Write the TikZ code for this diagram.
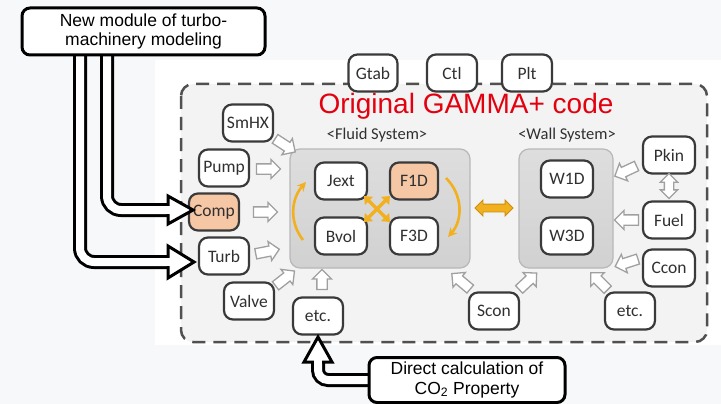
\documentclass[tikz,border=0pt]{standalone}
\usepackage{fontspec}
\setmainfont{Liberation Sans}
\newfontfamily\carlito{Carlito}
\usetikzlibrary{shapes.arrows,arrows.meta}
\definecolor{nodeborder}{HTML}{3A3A3A}
\definecolor{textgray}{HTML}{303030}
\definecolor{peach}{HTML}{F6C7A5}
\definecolor{arrowgray}{HTML}{A0A0A0}
\definecolor{gold}{HTML}{F2B01E}
\definecolor{golddark}{HTML}{C89010}
\definecolor{titlered}{HTML}{E3000F}
\definecolor{framegray}{HTML}{505050}
\definecolor{innerbg}{HTML}{F3F3F3}
\definecolor{outerbg}{HTML}{F7F8FA}
\begin{document}
\begin{tikzpicture}[x=1pt,y=-1pt,
  box/.style={draw=nodeborder, line width=2.2pt, rounded corners=9pt, fill=white,
    minimum width=50pt, minimum height=37pt, inner sep=0pt,
    font=\carlito\fontsize{17.5}{20}\selectfont, text=textgray},
  hot/.style={box, fill=peach},
  panel/.style={draw=black!28, line width=1.2pt, rounded corners=10pt,
    top color=black!13, bottom color=black!18},
  syslabel/.style={font=\carlito\fontsize{16.5}{20}\selectfont, text=textgray},
  garrow/.style={single arrow, draw=arrowgray, fill=white, line width=1.3pt,
    minimum height=24pt, inner xsep=0pt, inner ysep=4.5pt, text height=0pt, text depth=0pt,
    single arrow head extend=4.5pt, single arrow head indent=0pt},
  gdarrow/.style={double arrow, draw=arrowgray, fill=white, line width=1.3pt,
    minimum height=25pt, inner xsep=0pt, inner ysep=4pt, text height=0pt, text depth=0pt,
    double arrow head extend=4pt},
  bigarrow/.style={draw=black, line width=3pt, double=white, double distance=8pt},
  bighead/.style={draw=black, line width=3pt, fill=white, line join=miter},
  callout/.style={draw=black, line width=3pt, rounded corners=8pt, fill=white,
    align=center, inner sep=0pt, font=\fontsize{17.5}{19.5}\selectfont},
  goldarc/.style={draw=gold, line width=2.6pt, -{Stealth[length=9pt,width=9pt]}},
  goldx/.style={draw=gold, line width=3.5pt, {Triangle[length=7pt,width=11pt]}-{Triangle[length=7pt,width=11pt]}}
]
\useasboundingbox (0,0) rectangle (721,404);
\fill[outerbg] (0,0) rectangle (721,404);
\fill[white] (155,60) rectangle (721,345);

% dashed frame
\draw[draw=framegray, fill=innerbg, line width=2.5pt, dash pattern=on 13pt off 8pt,
  rounded corners=12pt] (181,84) rectangle (707,342);

% title and system labels
\node[text=titlered, font=\fontsize{28}{30}\selectfont] (title) at (466,106) {Original GAMMA+ code};
\node[syslabel] (fluidlbl) at (377,135) {<Fluid System>};
\node[syslabel] (walllbl) at (567,135) {<Wall System>};

% panels
\draw[panel] (290,149) rectangle (470,268);
\draw[panel] (519,149) rectangle (613,268);

% top nodes
\node[box, minimum width=49pt] (gtab) at (373,73) {Gtab};
\node[box] (ctl) at (452,73) {Ctl};
\node[box] (plt) at (527,73) {Plt};

% left column
\node[box] (smhx) at (248,123) {SmHX};
\node[box] (pump) at (224,168) {Pump};
\node[hot] (comp) at (214,212) {Comp};
\node[box] (turb) at (224,256) {Turb};
\node[box] (valve) at (249,301) {Valve};
\node[box] (etcl) at (318,316) {etc.};

% fluid system
\node[box, minimum width=52pt] (jext) at (341,181) {Jext};
\node[hot, minimum width=48pt] (f1d) at (414,181) {F1D};
\node[box, minimum width=52pt] (bvol) at (341,236) {Bvol};
\node[box, minimum width=48pt] (f3d) at (414,236) {F3D};

% wall system
\node[box, minimum width=52pt] (w1d) at (567,179) {W1D};
\node[box, minimum width=52pt] (w3d) at (567,236) {W3D};

% right column and bottom
\node[box, minimum width=52pt] (pkin) at (669,155) {Pkin};
\node[box, minimum width=52pt] (fuel) at (669,220) {Fuel};
\node[box, minimum width=52pt] (ccon) at (669,268) {Ccon};
\node[box] (scon) at (494,311) {Scon};
\node[box] (etcr) at (630,311) {etc.};

% gray hollow arrows
\node[garrow, rotate=-33] (a1) at (283,144) {};
\node[garrow] (a2) at (266,169) {};
\node[garrow] (a3) at (263,212) {};
\node[garrow, rotate=11] (a4) at (265,252) {};
\node[garrow, rotate=38] (a5) at (283,280) {};
\node[garrow, rotate=90, minimum height=20pt] (a6) at (322,282) {};
\node[garrow, rotate=140] (a7) at (463,283) {};
\node[garrow, rotate=43] (a8) at (526,283) {};
\node[garrow, rotate=135] (a9) at (601,283) {};
\node[garrow, rotate=198] (a10) at (629,262) {};
\node[garrow, rotate=180] (a11) at (629,220) {};
\node[garrow, rotate=205] (a12) at (628,170) {};
\node[gdarrow, rotate=90] (a13) at (669,186) {};

% gold arrows
\draw[goldarc] (303,240) .. controls (289,222) and (291,199) .. (306,182);
\draw[goldarc] (446,178) .. controls (463,195) and (463,220) .. (448,237);
\draw[goldx] (364,196) -- (390,222);
\draw[goldx] (390,196) -- (364,222);
\node[double arrow, draw=golddark, fill=gold, line width=0.8pt, minimum height=38pt,
  inner xsep=0pt, inner ysep=3.5pt, text height=0pt, text depth=0pt,
  double arrow head extend=4pt] (fw) at (494,208) {};

% big black arrows from the turbomachinery module
\draw[bigarrow, rounded corners=14pt] (107,50) -- (107,210) -- (168,210);
\draw[bighead] (168,196) -- (193,210) -- (168,224) -- cycle;
\fill[white] (166,206) rectangle (170,214);
\draw[bigarrow, rounded corners=14pt] (80,50) -- (80,262) -- (168,262);
\draw[bighead] (168,246) -- (194,262) -- (168,278) -- cycle;
\fill[white] (166,258) rectangle (170,266);

\node[callout, minimum width=243pt, minimum height=47pt] (newmod) at (143.5,31.5)
  {New module of turbo-\\machinery modeling};

% arrow from CO2 property box
\draw[bigarrow, rounded corners=10pt] (372,380) -- (318,380) -- (318,362);
\draw[bighead] (304,362) -- (318,337) -- (332,362) -- cycle;
\fill[white] (314,360) rectangle (322,364);
\node[callout, minimum width=196pt, minimum height=45pt] (co2) at (467,380)
  {Direct calculation of\\CO\textsubscript{2} Property};
\end{tikzpicture}
\end{document}
